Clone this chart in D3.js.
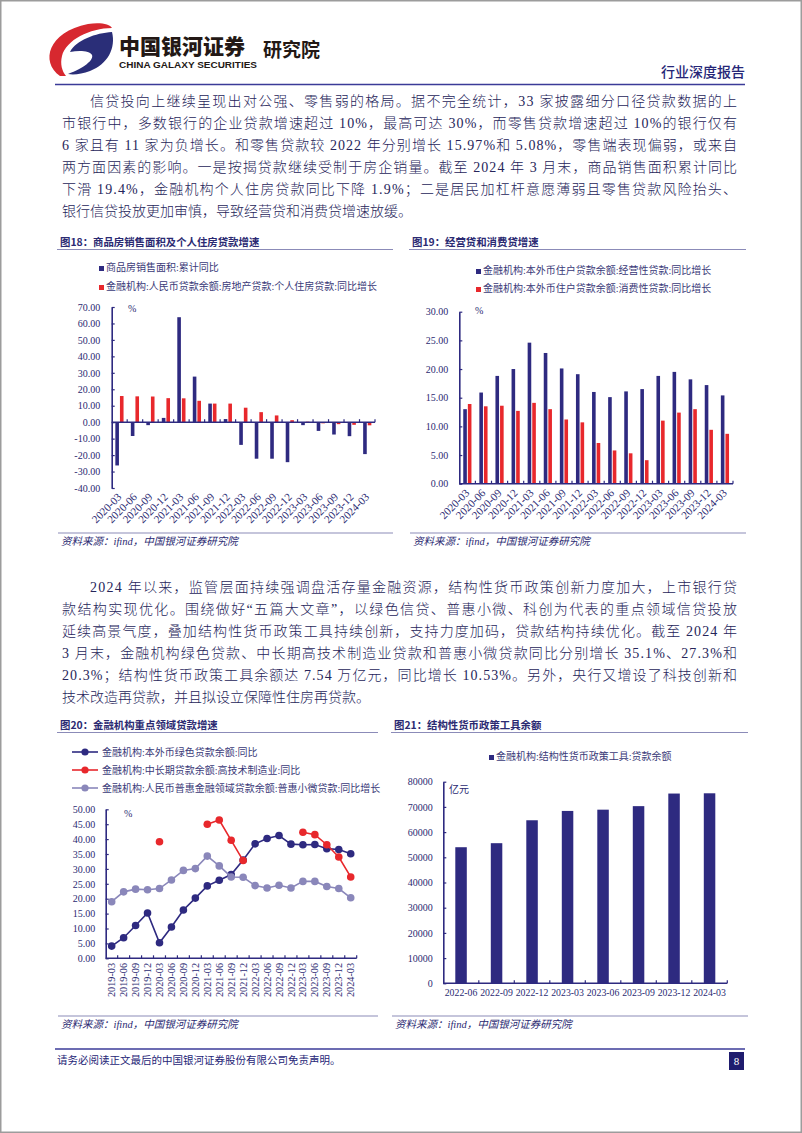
<!DOCTYPE html>
<html>
<head>
<meta charset="utf-8">
<script src="https://cdn.jsdelivr.net/npm/d3@7"></script>
<style>
  body { margin: 0; background: #fff; }
  text { font-family: "Liberation Serif", "Noto Sans CJK SC", serif; }
</style>
</head>
<body>
<script>
// ---- data ----
const quarters17 = ["2020-03", "2020-06", "2020-09", "2020-12", "2021-03", "2021-06", "2021-09", "2021-12",
    "2022-03", "2022-06", "2022-09", "2022-12", "2023-03", "2023-06", "2023-09", "2023-12", "2024-03"];
const salesArea = [-26.3, -8.4, -1.8, 2.6, 63.8, 27.7, 11.3, 1.9, -13.8, -22.2, -22.2, -24.3, -1.8, -5.3, -7.5, -8.5, -19.4];
const mortgage = [15.9, 15.7, 15.6, 14.6, 14.5, 13.0, 11.3, 11.3, 8.8, 6.1, 4.1, 1.2, 0.3, -0.7, -1.2, -1.6, -1.9];

const bizLoan = [13.0, 15.9, 18.8, 20.0, 24.6, 22.8, 20.1, 19.1, 16.0, 15.1, 16.1, 16.5, 18.8, 19.5, 18.2, 17.2, 15.4];
const consLoan = [13.9, 13.5, 13.6, 12.7, 14.1, 13.0, 11.2, 10.7, 7.1, 5.8, 5.3, 4.1, 11.0, 12.4, 13.0, 9.4, 8.7];

const quarters21 = ["2019-03", "2019-06", "2019-09", "2019-12", "2020-03", "2020-06", "2020-09", "2020-12",
    "2021-03", "2021-06", "2021-09", "2021-12", "2022-03", "2022-06", "2022-09", "2022-12",
    "2023-03", "2023-06", "2023-09", "2023-12", "2024-03"];
const greenLoan = [4.1, 6.9, 11.0, 15.2, 5.2, 10.5, 16.2, 20.2, 24.3, 26.2, 28.1, 33.0, 38.4, 40.2, 41.2, 38.3, 38.1, 38.2, 36.8, 36.5, 35.1];
const hiTechLoan = [null, null, null, null, 39.1, null, null, null, 45.0, 46.4, 39.6, 32.8, null, null, null, null, 42.3, 41.5, 38.1, 34.0, 27.3];
const smeLoan = [19.0, 22.3, 23.2, 23.0, 23.4, 26.3, 29.5, 30.1, 34.3, 31.0, 27.3, 27.2, 24.4, 23.6, 24.5, 23.6, 25.8, 25.8, 24.1, 23.4, 20.3];

const toolQuarters = ["2022-06", "2022-09", "2022-12", "2023-03", "2023-06", "2023-09", "2023-12", "2024-03"];
const toolBalance = [54000, 55600, 64700, 68400, 68900, 70300, 75300, 75400];

const para1 = [
    "信贷投向上继续呈现出对公强、零售弱的格局。据不完全统计，33 家披露细分口径贷款数据的上",
    "市银行中，多数银行的企业贷款增速超过 10%，最高可达 30%，而零售贷款增速超过 10%的银行仅有",
    "6 家且有 11 家为负增长。和零售贷款较 2022 年分别增长 15.97%和 5.08%，零售端表现偏弱，或来自",
    "两方面因素的影响。一是按揭贷款继续受制于房企销量。截至 2024 年 3 月末，商品销售面积累计同比",
    "下滑 19.4%，金融机构个人住房贷款同比下降 1.9%；二是居民加杠杆意愿薄弱且零售贷款风险抬头、",
    "银行信贷投放更加审慎，导致经营贷和消费贷增速放缓。"
];
const para2 = [
    "2024 年以来，监管层面持续强调盘活存量金融资源，结构性货币政策创新力度加大，上市银行贷",
    "款结构实现优化。围绕做好“五篇大文章”，以绿色信贷、普惠小微、科创为代表的重点领域信贷投放",
    "延续高景气度，叠加结构性货币政策工具持续创新，支持力度加码，贷款结构持续优化。截至 2024 年",
    "3 月末，金融机构绿色贷款、中长期高技术制造业贷款和普惠小微贷款同比分别增长 35.1%、27.3%和",
    "20.3%；结构性货币政策工具余额达 7.54 万亿元，同比增长 10.53%。另外，央行又增设了科技创新和",
    "技术改造再贷款，并且拟设立保障性住房再贷款。"
];

// ---- style ----
const navy = "#2E2A80";
const red = "#E8282C";
const lavender = "#8A87BA";
const ink = "#2B2A72";
const bodyInk = "#26255A";
const source = "资料来源：ifind，中国银河证券研究院";

const svg = d3.select("body").append("svg")
    .attr("width", 802)
    .attr("height", 1133);

svg.append("rect")
    .attr("x", 0.75).attr("y", 0.75)
    .attr("width", 800.5).attr("height", 1131.5)
    .attr("fill", "none").attr("stroke", "#9c9c9c").attr("stroke-width", 1.5);

// ---- header ----
// logo: red outer crescent + navy swirl
svg.append("path")
    .attr("d", "M60 76 C40 62 48 32 88 24 C100 22 110 24 112 28 C90 28 66 40 62 56 C60 64 62 71 66 76 Z")
    .attr("fill", "#D7282F");
svg.append("path")
    .attr("d", "M70 52 C76 40 96 33 112 32 C116 48 108 64 90 71 C82 74 74 75 68 74 C84 68 94 60 92 55 C90 51 80 50 70 52 Z")
    .attr("fill", "#2A2E78");

svg.append("text").text("中国银河证券")
    .attr("x", 119).attr("y", 54)
    .style("font-family", "Noto Sans CJK SC").style("font-weight", 900).style("font-size", "21px")
    .attr("fill", "#231815");
svg.append("text").text("CHINA GALAXY SECURITIES")
    .attr("x", 119).attr("y", 67.5)
    .attr("textLength", 138).attr("lengthAdjust", "spacingAndGlyphs")
    .style("font-family", "Liberation Sans").style("font-weight", 700).style("font-size", "9.5px")
    .attr("fill", "#231815");
svg.append("text").text("研究院")
    .attr("x", 263).attr("y", 57)
    .style("font-family", "Noto Sans CJK SC").style("font-weight", 700).style("font-size", "19px")
    .attr("fill", "#231815");
svg.append("text").text("行业深度报告")
    .attr("x", 745).attr("y", 77).attr("text-anchor", "end")
    .style("font-family", "Noto Sans CJK SC").style("font-weight", 500).style("font-size", "14px")
    .attr("fill", "#262677");
svg.append("line")
    .attr("x1", 55).attr("x2", 745).attr("y1", 84.5).attr("y2", 84.5)
    .attr("stroke", "#3B3B98").attr("stroke-width", 1.5);

// ---- body text ----
function paragraph(lines, y0)
{
    lines.forEach((t, i) => {
        const x = i === 0 ? 90 : 62;
        const txt = svg.append("text").text(t)
            .attr("x", x).attr("y", y0 + i * 22)
            .style("font-size", "14px").style("font-weight", 300)
            .attr("fill", bodyInk);
        if (i < lines.length - 1)
            txt.attr("textLength", 737 - x).attr("lengthAdjust", "spacing");
    });
}
paragraph(para1, 106);
paragraph(para2, 592);

// ---- shared bits ----
function chartTitle(label, x, y, x2)
{
    svg.append("text").text(label)
        .attr("x", x).attr("y", y)
        .style("font-family", "Noto Sans CJK SC").style("font-weight", 700).style("font-size", "10.4px")
        .attr("fill", ink);
    svg.append("line")
        .attr("x1", x - 3).attr("x2", x2).attr("y1", y + 3.5).attr("y2", y + 3.5)
        .attr("stroke", "#8B8BB8").attr("stroke-width", 1);
}

function sourceNote(x, y, x2)
{
    svg.append("line")
        .attr("x1", x - 3).attr("x2", x2).attr("y1", y - 12).attr("y2", y - 12)
        .attr("stroke", "#8B8BB8").attr("stroke-width", 1.2);
    svg.append("text").text(source)
        .attr("x", x).attr("y", y)
        .style("font-style", "italic").style("font-size", "10.5px")
        .attr("fill", ink);
}

function squareLegend(x, y, color, label)
{
    svg.append("rect").attr("x", x).attr("y", y - 5).attr("width", 5).attr("height", 5).attr("fill", color);
    svg.append("text").text(label)
        .attr("x", x + 7).attr("y", y)
        .style("font-size", "10px").attr("fill", "#3A3A78");
}

function unitLabel(text, x, y)
{
    svg.append("text").text(text)
        .attr("x", x).attr("y", y)
        .style("font-size", "10px").attr("fill", ink);
}

function yAxis(y, x0, pad, values, fmt)
{
    const g = svg.append("g")
        .attr("transform", `translate(${x0},0)`)
        .call(d3.axisLeft(y).tickValues(values).tickFormat(fmt).tickSizeInner(-3).tickSizeOuter(0).tickPadding(pad));
    g.select(".domain").attr("stroke", navy).attr("stroke-width", 1.6);
    g.selectAll(".tick line").attr("stroke", navy).attr("stroke-width", 1.2);
    g.selectAll("text").style("font-family", "Liberation Serif").style("font-size", "10px").attr("fill", ink);
}

function xBaseline(x, yPos)
{
    const [r0, r1] = x.range();
    const g = svg.append("g");
    g.append("line")
        .attr("x1", r0).attr("x2", r1).attr("y1", yPos).attr("y2", yPos)
        .attr("stroke", navy).attr("stroke-width", 1.6);
    g.selectAll(".sep").data(d3.range(1, x.domain().length + 1)).join("line")
        .attr("x1", i => r0 + i * x.step()).attr("x2", i => r0 + i * x.step())
        .attr("y1", yPos).attr("y2", yPos - 3)
        .attr("stroke", navy).attr("stroke-width", 1.2);
}

function slantLabels(x, yPos, angle, size)
{
    const g = svg.append("g")
        .attr("transform", `translate(0,${yPos})`)
        .call(d3.axisBottom(x).tickSize(0).tickPadding(0));
    g.select(".domain").remove();
    g.selectAll("text")
        .attr("y", 0).attr("x", 0).attr("dy", "0.35em")
        .attr("text-anchor", "end")
        .attr("transform", `rotate(${angle})`)
        .style("font-family", "Liberation Serif").style("font-size", size)
        .attr("fill", ink);
}

function pairBars(x, y, a, b)
{
    const bw = 3.6;
    const mid = d => x(d) + x.bandwidth() / 2;
    const cats = x.domain();
    [[a, navy, -bw - 0.5], [b, red, 0.5]].forEach(([vals, color, off]) => {
        svg.append("g").selectAll("rect").data(cats).join("rect")
            .attr("x", (d) => mid(d) + off)
            .attr("width", bw)
            .attr("y", (d, i) => Math.min(y(vals[i]), y(0)))
            .attr("height", (d, i) => Math.abs(y(vals[i]) - y(0)))
            .attr("fill", color);
    });
}

// ---- 图18 ----
chartTitle("图18：商品房销售面积及个人住房贷款增速", 60, 246, 393);
squareLegend(99, 271, navy, "商品房销售面积:累计同比");
squareLegend(99, 290, red, "金融机构:人民币贷款余额:房地产贷款:个人住房贷款:同比增长");
{
    const x = d3.scaleBand().domain(quarters17).range([111.7, 375]);
    const y = d3.scaleLinear().domain([-40, 70]).range([488, 307]);
    pairBars(x, y, salesArea, mortgage);
    xBaseline(x, y(0));
    yAxis(y, 111.7, 11.5, d3.range(-40, 71, 10), d => d.toFixed(2));
    unitLabel("%", 128, 312);
    slantLabels(x, 495, -45, "11px");
}
sourceNote(61, 545, 393);

// ---- 图19 ----
chartTitle("图19：经营贷和消费贷增速", 412, 246, 746);
squareLegend(476, 274, navy, "金融机构:本外币住户贷款余额:经营性贷款:同比增长");
squareLegend(476, 292, red, "金融机构:本外币住户贷款余额:消费性贷款:同比增长");
{
    const x = d3.scaleBand().domain(quarters17).range([459.3, 733]);
    const y = d3.scaleLinear().domain([0, 30]).range([483.7, 311.7]);
    pairBars(x, y, bizLoan, consLoan);
    xBaseline(x, y(0));
    yAxis(y, 459.3, 11, d3.range(0, 31, 5), d => d.toFixed(2));
    unitLabel("%", 475, 314);
    slantLabels(x, 491, -45, "11px");
}
sourceNote(413, 545, 746);

// ---- 图20 ----
chartTitle("图20：金融机构重点领域贷款增速", 60, 729, 378);
{
    const series = [
        { vals: greenLoan, color: navy, label: "金融机构:本外币绿色贷款余额:同比" },
        { vals: hiTechLoan, color: red, label: "金融机构:中长期贷款余额:高技术制造业:同比" },
        { vals: smeLoan, color: lavender, label: "金融机构:人民币普惠金融领域贷款余额:普惠小微贷款:同比增长" }
    ];
    series.forEach((s, i) => {
        const ly = 752 + i * 18;
        svg.append("line").attr("x1", 72).attr("x2", 98).attr("y1", ly).attr("y2", ly)
            .attr("stroke", s.color).attr("stroke-width", 1.6);
        svg.append("circle").attr("cx", 85).attr("cy", ly).attr("r", 3.6).attr("fill", s.color);
        svg.append("text").text(s.label)
            .attr("x", 102).attr("y", ly + 3.5)
            .style("font-size", "10px").attr("fill", "#3A3A78");
    });

    const x = d3.scaleBand().domain(quarters21).range([105.7, 356.7]);
    const y = d3.scaleLinear().domain([0, 50]).range([958.3, 809.3]);
    const cx = d => x(d) + x.bandwidth() / 2;
    const line = d3.line()
        .defined(d => d[1] != null)
        .x(d => cx(d[0]))
        .y(d => y(d[1]));

    series.forEach(s => {
        const pts = quarters21.map((q, i) => [q, s.vals[i]]);
        svg.append("path").attr("d", line(pts))
            .attr("fill", "none").attr("stroke", s.color).attr("stroke-width", 1.6);
        svg.append("g").selectAll("circle").data(pts.filter(p => p[1] != null)).join("circle")
            .attr("cx", p => cx(p[0])).attr("cy", p => y(p[1]))
            .attr("r", 3.8).attr("fill", s.color);
    });

    xBaseline(x, y(0));
    yAxis(y, 105.7, 10.5, d3.range(0, 51, 5), d => d.toFixed(2));
    unitLabel("%", 124, 817);
    slantLabels(x, 963, -90, "10.2px");
}
sourceNote(61, 1028, 378);

// ---- 图21 ----
chartTitle("图21：结构性货币政策工具余额", 394, 729, 748);
squareLegend(489, 760, navy, "金融机构:结构性货币政策工具:贷款余额");
{
    const x = d3.scaleBand().domain(toolQuarters).range([443.3, 727.3]);
    const y = d3.scaleLinear().domain([0, 80000]).range([983.3, 781.7]);
    const bw = 11.5;
    svg.append("g").selectAll("rect").data(toolQuarters).join("rect")
        .attr("x", d => x(d) + x.bandwidth() / 2 - bw / 2)
        .attr("width", bw)
        .attr("y", (d, i) => y(toolBalance[i]))
        .attr("height", (d, i) => y(0) - y(toolBalance[i]))
        .attr("fill", navy);
    xBaseline(x, y(0));
    yAxis(y, 443.3, 10.5, d3.range(0, 80001, 10000), d => String(d));
    unitLabel("亿元", 449, 793);

    const g = svg.append("g")
        .attr("transform", `translate(0,${y(0)})`)
        .call(d3.axisBottom(x).tickSize(0).tickPadding(6));
    g.select(".domain").remove();
    g.selectAll("text")
        .style("font-family", "Liberation Serif").style("font-size", "9.8px")
        .attr("fill", ink);
}
sourceNote(395, 1028, 748);

// ---- footer ----
svg.append("line")
    .attr("x1", 55).attr("x2", 745).attr("y1", 1049).attr("y2", 1049)
    .attr("stroke", "#3B3B98").attr("stroke-width", 1.3);
svg.append("text").text("请务必阅读正文最后的中国银河证券股份有限公司免责声明。")
    .attr("x", 57).attr("y", 1064)
    .style("font-size", "10.5px").attr("fill", "#262677");
svg.append("rect")
    .attr("x", 729).attr("y", 1052).attr("width", 15).attr("height", 18)
    .attr("fill", "#1F1C6E");
svg.append("text").text("8")
    .attr("x", 736.5).attr("y", 1065).attr("text-anchor", "middle")
    .style("font-size", "11px").attr("fill", "#fff");
</script>
</body>
</html>
